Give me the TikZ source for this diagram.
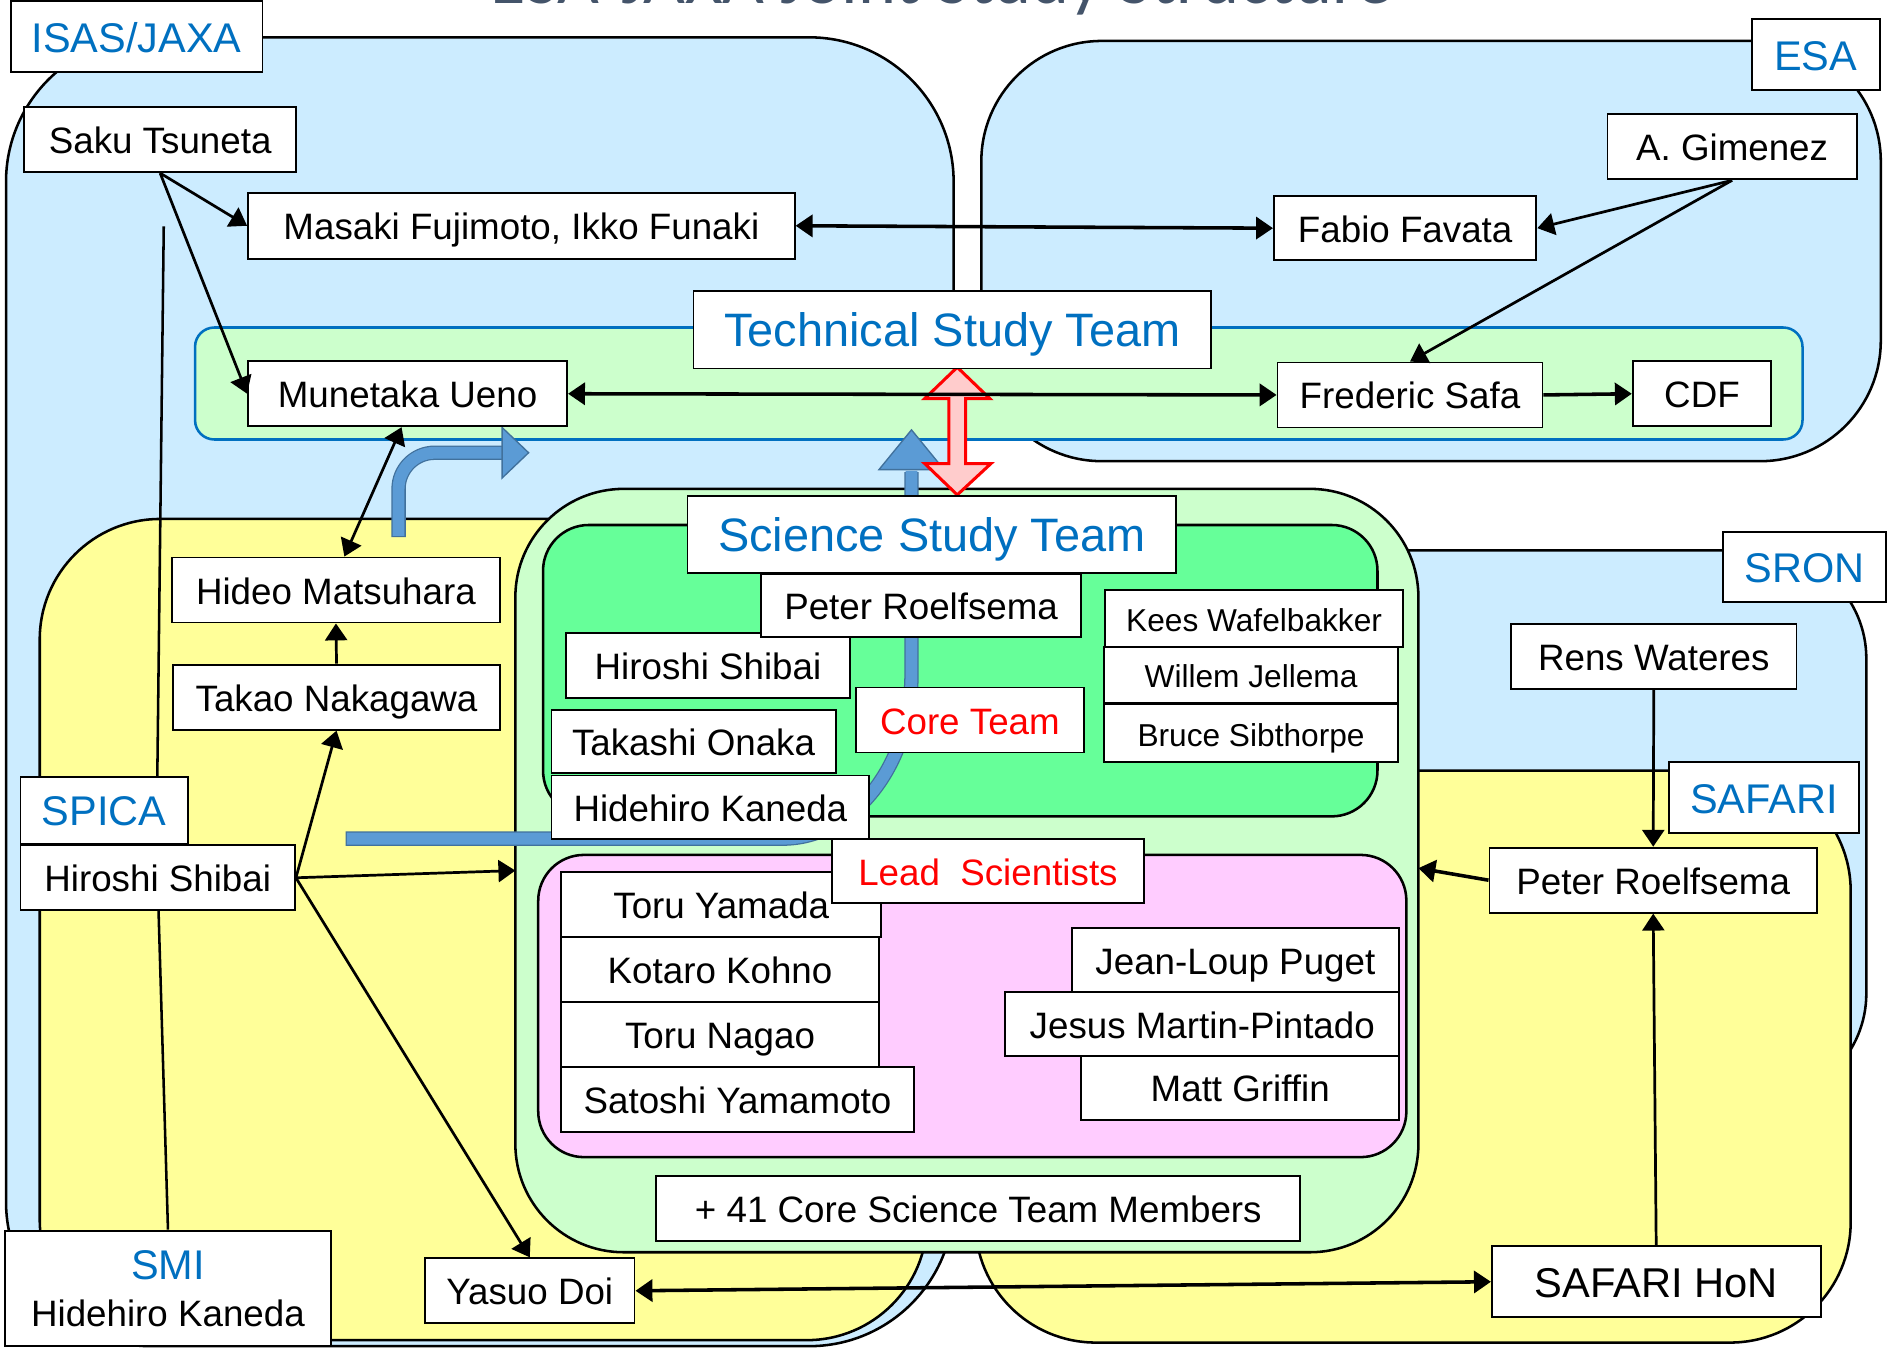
\documentclass[tikz,border=0pt]{standalone}
\usepackage{fontspec}
\setmainfont{Liberation Sans}
\newfontfamily\carlito{Carlito}
\usetikzlibrary{arrows.meta}
\definecolor{lblue}{HTML}{CCECFF}
\definecolor{yel}{HTML}{FFFF99}
\definecolor{lgreen}{HTML}{CCFFCC}
\definecolor{cgreen}{HTML}{66FF99}
\definecolor{lpink}{HTML}{FFCCFF}
\definecolor{jblue}{HTML}{0070C0}
\definecolor{bafill}{HTML}{5B9BD5}
\definecolor{baline}{HTML}{41719C}
\definecolor{rpink}{HTML}{FFCCCC}
\definecolor{pred}{HTML}{FF0000}
\definecolor{titlec}{HTML}{44546A}
\pgfdeclarelayer{bg}
\pgfdeclarelayer{mid}
\pgfsetlayers{bg,mid,main}
\begin{document}
\begin{tikzpicture}[x=0.025cm,y=-0.025cm,
  region/.style={draw=black, line width=1.5pt},
  box/.style={draw=black, fill=white, line width=1.1pt, inner sep=0pt},
  bx/.style n args={4}{at={(#1/2+#3/2,#2/2+#4/2)}, minimum width={(#3-#1)*0.025cm}, minimum height={(#4-#2)*0.025cm}},
  nm/.style={box, font=\fontsize{21.7}{26}\selectfont, text height=16.6pt, text depth=0pt},
  sm/.style={box, font=\fontsize{18.7}{22}\selectfont, text height=15.1pt, text depth=0pt},
  lbl/.style={box, text=jblue, font=\fontsize{24.5}{29}\selectfont, text height=18.1pt, text depth=0pt},
  ttl/.style={box, text=jblue, font=\fontsize{27.7}{33}\selectfont, text height=19.6pt, text depth=0pt},
  redlbl/.style={nm, text=pred},
  hon/.style={box, font=\fontsize{24.6}{29}\selectfont, text height=18.2pt, text depth=0pt},
  conn/.style={line width=1.6pt, -{Triangle[length=10pt,width=13pt]}},
  conntwo/.style={line width=2.1pt, {Triangle[length=10pt,width=13pt]}-{Triangle[length=10pt,width=13pt]}},
  connthin2/.style={line width=1.6pt, {Triangle[length=10pt,width=13pt]}-{Triangle[length=10pt,width=13pt]}},
  bigconn/.style={line width=2.1pt, -{Triangle[length=10pt,width=13pt]}},
  bashaft/.style={line width=8.5pt, baline},
  bainner/.style={line width=7pt, bafill},
  bahead/.style={fill=bafill, draw=baline, line width=0.8pt, line join=miter},
]
\useasboundingbox (0,0) rectangle (1568,1124);

% ---------- background regions ----------
\begin{pgfonlayer}{bg}
  \draw[region, fill=lblue, rounded corners=3cm] (5,31) rectangle (792,1118);
  \draw[region, fill=lblue, rounded corners=2.5cm] (815,34) rectangle (1562,383);
  \draw[region, fill=lblue, rounded corners=2.25cm] (1000,457) rectangle (1550,915);
  \draw[region, fill=yel, rounded corners=2.5cm] (810,640) rectangle (1537,1115);
  \draw[region, fill=yel, rounded corners=2.5cm] (33,431) rectangle (770,1113);
  \draw[draw=jblue, line width=1.5pt, fill=lgreen, rounded corners=0.4cm] (162,272) rectangle (1497,365);
  \draw[region, fill=lgreen, rounded corners=2.25cm] (428,406) rectangle (1178,1040);
  \draw[region, fill=cgreen, rounded corners=0.95cm] (451,436) rectangle (1144,678);
  \draw[region, fill=lpink, rounded corners=0.95cm] (447,710) rectangle (1168,961);
\end{pgfonlayer}

% ---------- title (cut off at the top, as in the original) ----------
\node[anchor=base, text=titlec, font=\carlito\fontsize{42.7}{50}\selectfont] (title) at (782,3) {ESA-JAXA Joint Study Structure};

% ---------- label boxes ----------
\node[lbl, bx={9}{1}{218}{60}] (isas) {ISAS/JAXA};
\node[lbl, bx={1455}{16}{1561}{75}] (esa) {ESA};
\node[lbl, bx={1431}{442}{1566}{500}] (sron) {SRON};
\node[lbl, bx={1386}{633}{1544}{692}] (safari) {SAFARI};
\node[lbl, bx={17}{645}{156}{701}] (spica) {SPICA};
\node[box, align=center, font=\fontsize{21.7}{28}\selectfont, bx={4}{1022}{275}{1118}, text depth=0pt] (smi)
  {\textcolor{jblue}{\fontsize{24.5}{28}\selectfont SMI}\\Hidehiro Kaneda};
\node[ttl, bx={576}{242}{1006}{306}] (tst) {Technical Study Team};

% ---------- ISAS/JAXA and ESA ----------
\node[nm, bx={20}{89}{246}{143}] (st) {Saku Tsuneta};
\node[nm, bx={206}{160}{660}{215}] (mf) {Masaki Fujimoto, Ikko Funaki};
\node[nm, bx={206}{300}{471}{354}] (mu) {Munetaka Ueno};
\node[nm, bx={1335}{95}{1542}{149}] (ag) {A. Gimenez};
\node[nm, bx={1058}{163}{1276}{216}] (ff) {Fabio Favata};
\node[nm, bx={1061}{301}{1281}{355}] (fs) {Frederic Safa};
\node[nm, bx={1356}{300}{1471}{354}] (cdf) {CDF};

% ---------- SPICA ----------
\node[nm, bx={143}{463}{415}{517}] (hm) {Hideo Matsuhara};
\node[nm, bx={144}{552}{415}{606}] (tn) {Takao Nakagawa};
\node[nm, bx={17}{702}{245}{756}] (hs) {Hiroshi Shibai};
\node[nm, bx={353}{1045}{527}{1099}] (yd) {Yasuo Doi};

% ---------- SRON / SAFARI ----------
\node[nm, bx={1255}{518}{1492}{572}] (rw) {Rens Wateres};
\node[nm, bx={1237}{704}{1509}{758}] (pr) {Peter Roelfsema};
\node[hon, bx={1239}{1035}{1512}{1094}] (shon) {SAFARI HoN};

% ---------- mid layer: thick arrows and plain line ----------
\coordinate (smitop) at (136,188);
\begin{pgfonlayer}{mid}
  \draw[line width=1.5pt] (smitop) -- (130,700) -- (smi.north);
  % bent arrow from SPICA
  \draw[bashaft, rounded corners=0.75cm] (331,446) -- (331,376) -- (419,376);
  \draw[bainner, rounded corners=0.75cm] (331,445) -- (331,376) -- (420,376);
  \filldraw[bahead] (417,355) -- (439,376) -- (417,397) -- cycle;
  % long bent arrow through the core team
  \draw[bashaft] (287,696.5) -- (650,696.5) .. controls (709,696.5) and (757,635) .. (757,560) -- (757,392);
  \draw[bainner] (288,696.5) -- (650,696.5) .. controls (709,696.5) and (757,635) .. (757,560) -- (757,391);
  \filldraw[bahead] (730,390) -- (757,357) -- (784,390) -- cycle;
  % red double arrow
  \filldraw[fill=rpink, draw=pred, line width=1.8pt, line join=miter]
    (795,305) -- (822,331) -- (802,331) -- (802,385) -- (823,385) -- (795,411)
    -- (768,385) -- (788,385) -- (788,331) -- (768,331) -- cycle;
\end{pgfonlayer}

\node[ttl, bx={571}{412}{977}{476}] (sst) {Science Study Team};

% ---------- core team ----------
\node[nm, bx={470}{526}{706}{580}] (cshibai) {Hiroshi Shibai};
\node[nm, bx={632}{477}{898}{529}] (cpr) {Peter Roelfsema};
\node[nm, bx={458}{590}{694}{642}] (onaka) {Takashi Onaka};
\node[nm, bx={458}{644}{722}{697}] (ckaneda) {Hidehiro Kaneda};
\node[redlbl, bx={711}{571}{900}{625}] (coreteam) {Core Team};
\node[sm, bx={918}{490}{1165}{537}] (kees) {Kees Wafelbakker};
\node[sm, bx={917}{537}{1161}{584}] (willem) {Willem Jellema};
\node[sm, bx={917}{585}{1161}{633}] (bruce) {Bruce Sibthorpe};

% ---------- lead scientists ----------
\node[nm, bx={466}{724}{732}{778}] (yamada) {Toru Yamada};
\node[redlbl, bx={691}{697}{950}{750}] (lead) {Lead\ \ Scientists};
\node[nm, bx={466}{778}{730}{832}] (kohno) {Kotaro Kohno};
\node[nm, bx={466}{832}{730}{886}] (nagao) {Toru Nagao};
\node[nm, bx={466}{886}{759}{940}] (yamamoto) {Satoshi Yamamoto};
\node[nm, bx={890}{771}{1162}{824}] (puget) {Jean-Loup Puget};
\node[nm, bx={835}{824}{1162}{877}] (pintado) {Jesus Martin-Pintado};
\node[nm, bx={898}{877}{1162}{930}] (griffin) {Matt Griffin};
\node[nm, bx={545}{977}{1080}{1031}] (members) {+ 41 Core Science Team Members};

% ---------- connectors ----------
\coordinate (sstL) at (428,723);
\coordinate (sstR) at (1178,721);
\draw[conn] (st.south) -- (mf.west);
\draw[conn] (st.south) -- (mu.west);
\draw[conntwo] (mf.east) -- (ff.west);
\draw[conn] (ag.south) -- (ff.east);
\draw[conn] (ag.south) -- (fs.north);
\draw[conntwo] (mu.east) -- (fs.west);
\draw[bigconn] (fs.east) -- (cdf.west);
\draw[connthin2] ([xshift=-0.125cm]mu.south) -- ([xshift=0.175cm]hm.north);
\draw[conn] (tn.north) -- (hm.south);
\draw[conn] (hs.east) -- (tn.south);
\draw[conn] (hs.east) -- (sstL);
\draw[conn] (hs.east) -- (yd.north);
\draw[conntwo] (yd.east) -- (shon.west);
\draw[conn] (rw.south) -- (pr.north);
\draw[conn] (shon.north) -- (pr.south);
\draw[bigconn] (pr.west) -- (sstR);
\end{tikzpicture}
\end{document}
